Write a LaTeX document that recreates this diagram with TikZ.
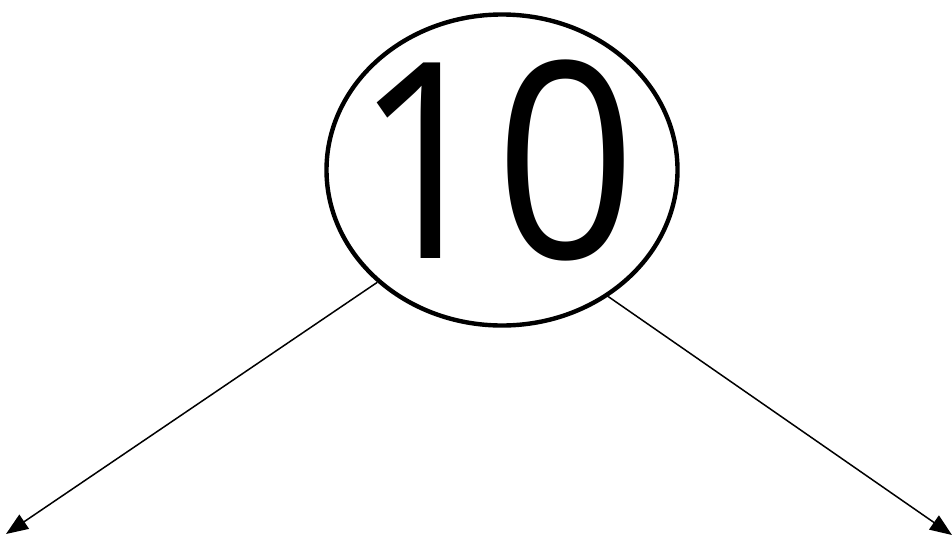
\documentclass[tikz,border=0pt]{standalone}
\usepackage{fontspec}
\usepackage{graphicx}
\setmainfont{Open Sans}
\usetikzlibrary{arrows.meta,shapes.geometric}
\definecolor{TreeInk}{HTML}{000000}

\begin{document}
\begin{tikzpicture}[x=1pt,y=-1pt,
    keyring/.style={draw=TreeInk, ellipse, line width=4.4pt, inner sep=0pt,
      minimum width=351pt, minimum height=311pt},
    branch/.style={draw=TreeInk, line width=1.5pt,
      -{Triangle[length=22pt,width=17pt]}}]
    \useasboundingbox (0,0) rectangle (952,536);
    \node[keyring] (ten) at (502,170) {};
    \node[text=TreeInk, inner sep=0pt, font=\fontsize{274}{274}\selectfont]
      (tenlbl) at (495,160) {\scalebox{0.9}[1]{10}};
    \coordinate (leftend) at (6,534);
    \coordinate (rightend) at (952,535);
    \draw[branch] (ten.222) -- (leftend);
    \draw[branch] (ten.310) -- (rightend);
  \end{tikzpicture}
\end{document}
